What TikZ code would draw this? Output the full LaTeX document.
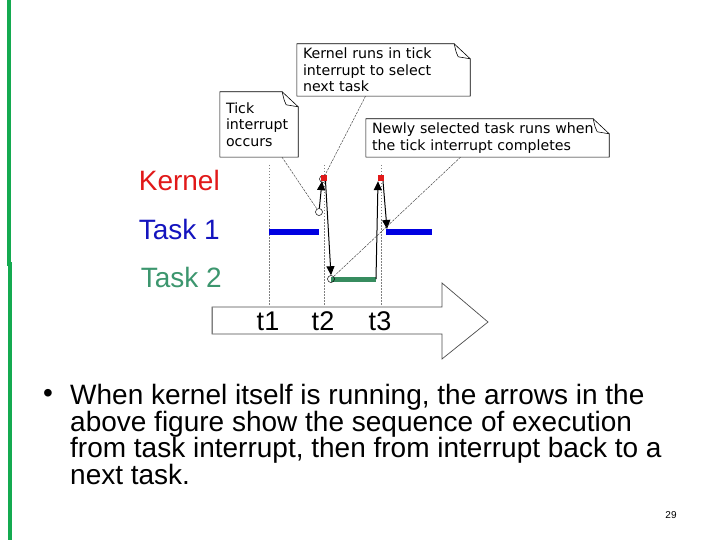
\documentclass[tikz,border=0pt]{standalone}
\usepackage{fontspec}
\setmainfont{Liberation Sans}
\newfontfamily\notefont{DejaVu Sans}
\usetikzlibrary{arrows.meta, positioning, calc}
\usepackage{xcolor}
\definecolor{kernred}{RGB}{225,25,25}
\definecolor{taskblue}{RGB}{0,0,225}
\definecolor{lblblue}{RGB}{20,20,190}
\definecolor{taskgreen}{RGB}{55,140,95}
\definecolor{lblgreen}{RGB}{60,150,110}
\definecolor{bargreen}{RGB}{20,170,80}

\begin{document}
\begin{tikzpicture}[x=1pt, y=-1pt,
    note/.style={rectangle, fill=white, inner xsep=6pt, inner ysep=0pt, align=left, font={\notefont\fontsize{14.2}{16.5}\selectfont}},
    notefr/.style={draw=black, line width=0.6pt},
    rowlbl/.style={anchor=east, inner sep=0pt, font=\fontsize{28}{30}\selectfont},
    tlbl/.style={inner sep=0pt, font=\fontsize{27}{30}\selectfont},
    body/.style={inner sep=0pt, align=left, font=\fontsize{28}{26.5}\selectfont},
    timeline/.style={gray, line width=0.6pt, dash pattern=on 1.5pt off 1.5pt},
    ring/.style={circle, draw, inner sep=0pt, minimum size=7pt, line width=0.5pt},
    ksq/.style={rectangle, fill=kernred, inner sep=0pt, minimum size=6pt},
    arr/.style={-{Triangle[length=9pt,width=8pt]}, line width=1pt},
    ptr/.style={black!75, line width=0.45pt, dash pattern=on 2.5pt off 1pt}
]
    \useasboundingbox (0,0) rectangle (720,540);

    % slide bar on the left
    \draw[bargreen, line width=4pt] (9,0) -- (9,266);
    \draw[bargreen, line width=4pt] (10,262) -- (10,540);

    % row labels
    \node[rowlbl, text=kernred] (kern) at (220,180) {Kernel};
    \node[rowlbl, text=lblblue] (task1) at (220,229) {Task 1};
    \node[rowlbl, text=lblgreen] (task2) at (222,277) {Task 2};

    % time axis (block arrow)
    \draw[black!70, line width=0.7pt, fill=white] (212,307) -- (442,307) -- (442,283) -- (488,322)
        -- (442,359) -- (442,334) -- (212,334) -- cycle;
    \draw[gray, line width=1.5pt] (212.5,307) -- (212.5,334);

    % dotted time marks and labels
    \foreach \x/\t in {269/t1, 324/t2, 381/t3} {
        \draw[timeline] (\x,165) -- (\x,305);
        \node[tlbl] (\t) at (\x-1,321) {\t};
    }

    % task activity
    \draw[taskblue, line width=5pt] (269,232) -- (319,232);
    \draw[taskblue, line width=5pt] (386,232) -- (432,232);
    \draw[taskgreen, line width=5pt] (331,279) -- (376,279);

    % switch points
    \node[ring] (c1) at (319,212) {};
    \node[ring] (c2) at (331,279) {};
    \node[ring] (c0) at (323,179) {};
    \node[ksq] (k1) at (324,178) {};
    \node[ksq] (k2) at (381,178) {};
    \coordinate (g2end) at (376,279);
    \coordinate (b1back) at (387,229);

    % execution sequence
    \draw[arr] (c1) -- ([xshift=-2pt]k1.south);
    \draw[arr] ([xshift=1.5pt]k1.south) -- (c2.north);
    \draw[arr] (g2end) -- ([xshift=-3pt]k2.south);
    \draw[arr] ([xshift=2pt]k2.south) -- (b1back);

    % callouts
    \node[note, text width=66pt, minimum height=65pt] (tick) at (259,124.5) {Tick\\interrupt\\occurs};
    \node[note, text width=161pt, minimum height=52pt] (krun) at (383.5,70) {Kernel runs in tick\\interrupt to select\\next task};
    \node[note, text width=231pt, minimum height=38pt] (newly) at (487.5,138) {Newly selected task runs when\\the tick interrupt completes};

    \foreach \n in {tick, krun, newly} {
        \draw[notefr] (\n.south west) -- (\n.north west) -- ([xshift=-16pt]\n.north east)
            -- ([yshift=-15pt]\n.north east) -- (\n.south east) -- cycle;
        \draw[notefr] ([xshift=-16pt]\n.north east) .. controls ([xshift=-14pt,yshift=-9pt]\n.north east)
            .. ([xshift=-12pt,yshift=-13pt]\n.north east) -- ([yshift=-15pt]\n.north east);
    }

    \draw[ptr] ([xshift=23pt]tick.south) -- (c1);
    \draw[ptr] ([xshift=-18pt]krun.south) -- (c0);
    \draw[ptr] ([xshift=-27pt]newly.south) -- (c2);

    % bullet text
    \node[body] (bul) at (48,396) {•};
    \node[body, anchor=north west] (txt) at (70,384.5) {When kernel itself is running, the arrows in the\\above figure show the sequence of execution\\from task interrupt, then from interrupt back to a\\next task.};

    \node[font=\fontsize{10}{12}\selectfont] (pg) at (671,515) {29};
\end{tikzpicture}
\end{document}
